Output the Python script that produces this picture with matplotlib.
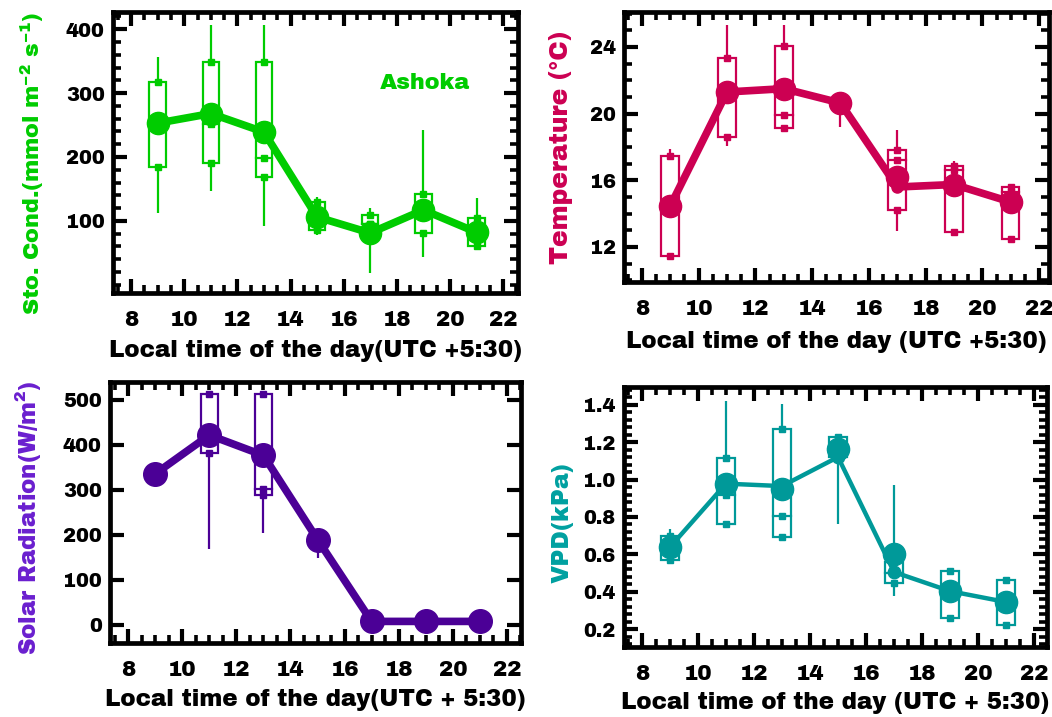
import matplotlib
matplotlib.use('Agg')
import matplotlib.pyplot as plt
import numpy as np
from matplotlib.ticker import MultipleLocator, FormatStrFormatter
from matplotlib.patches import Rectangle

FONT = ['Archivo Black', 'Liberation Sans', 'DejaVu Sans']
plt.rcParams['font.family'] = FONT
plt.rcParams['mathtext.fontset'] = 'custom'
plt.rcParams['mathtext.rm'] = 'Archivo Black'
plt.rcParams['mathtext.bf'] = 'Archivo Black'
plt.rcParams['mathtext.it'] = 'Archivo Black'
plt.rcParams['mathtext.default'] = 'regular'

nan = np.nan
hours = [9, 11, 13, 15, 17, 19, 21]

# Stomatal conductance (mmol m-2 s-1)
gs_line = [253, 268, 239, 106, 81, 117, 82]
gs_mean = [253, 268, 239, 106, 81, 117, 82]
gs_q1 = [184, 190, 168, 86, 95, 81, 60]
gs_q3 = [318, 348, 348, 129, 109, 142, 104]
gs_med = [253, 252, 199, 106, 95, 117, 82]
gs_lo = [112, 147, 92, 78, 18, 44, 55]
gs_hi = [356, 407, 407, 138, 120, 243, 135]

# Temperature (deg C)
t_line = [14.46, 21.3, 21.5, 20.64, 15.6, 15.75, 14.7]
t_mean = [14.46, 21.3, 21.5, 20.64, 16.2, 15.75, 14.7]
t_q1 = [11.44, 18.6, 19.16, 20.3, 14.2, 12.9, 12.5]
t_q3 = [17.46, 23.36, 24.06, 20.9, 17.8, 16.84, 15.6]
t_med = [14.46, 21.3, 19.9, 20.64, 17.2, 16.64, 15.3]
t_lo = [11.4, 18.04, 19.1, 19.2, 12.96, 12.9, 12.5]
t_hi = [17.86, 25.3, 25.3, 20.9, 19.0, 17.16, 15.8]

# Solar radiation (W/m2)
sr_line = [335, 421, 376, 189, 7, 7, 7]
sr_mean = [335, 421, 376, 189, 7, 7, 7]
sr_q1 = [nan, 382, 287, nan, nan, nan, nan]
sr_q3 = [nan, 512, 512, nan, nan, nan, nan]
sr_med = [nan, 421, 302, nan, nan, nan, nan]
sr_lo = [322, 169, 204, 148, nan, nan, nan]
sr_hi = [348, 512, 512, 189, nan, nan, nan]

# VPD (kPa)
vpd_line = [0.639, 0.978, 0.965, 1.12, 0.506, 0.404, 0.346]
vpd_mean = [0.639, 0.978, 0.947, 1.165, 0.60, 0.404, 0.346]
vpd_q1 = [0.568, 0.764, 0.693, 1.12, 0.447, 0.262, 0.226]
vpd_q3 = [0.70, 1.115, 1.272, 1.227, 0.559, 0.511, 0.465]
vpd_med = [0.64, 0.915, 0.803, 1.17, 0.50, 0.40, 0.35]
vpd_lo = [0.568, 0.764, 0.693, 0.764, 0.376, 0.262, 0.226]
vpd_hi = [0.737, 1.42, 1.405, 1.227, 0.969, 0.511, 0.465]

fig = plt.figure(figsize=(10.52, 7.17), dpi=100)

BW = 0.62


def draw(ax, color, line, mean, q1, q3, med, lo, hi, lw, ms, sms):
    for i, x in enumerate(hours):
        if not np.isnan(lo[i]):
            ax.plot([x, x], [lo[i], hi[i]], color=color, lw=1.6, zorder=1,
                    solid_capstyle='butt')
        if not np.isnan(q1[i]):
            ax.add_patch(Rectangle((x - BW / 2, q1[i]), BW, q3[i] - q1[i],
                                   facecolor='white', edgecolor=color, lw=1.6, zorder=2))
            ax.plot([x - BW / 2, x + BW / 2], [med[i], med[i]], color=color, lw=1.6, zorder=2)
            ax.plot([x, x, x], [q1[i], med[i], q3[i]], 's', color=color, ms=4.2, zorder=3)
    ax.plot(hours, line, '-o', color=color, lw=lw, ms=sms, zorder=4)
    ax.plot(hours, mean, 'o', color=color, ms=ms, zorder=5)


def style(ax, xlim, ylim, yticks, ymin, ylabel, ycolor, xlabel, ylx, yly, yfs, xpad):
    ax.set_xlim(*xlim)
    ax.set_ylim(*ylim)
    ax.xaxis.set_major_locator(MultipleLocator(2))
    ax.xaxis.set_minor_locator(MultipleLocator(0.5))
    ax.set_yticks(yticks)
    if ymin:
        ax.yaxis.set_minor_locator(MultipleLocator(ymin))
    else:
        ax.yaxis.set_minor_locator(plt.NullLocator())
    ax.tick_params(which='both', direction='in', top=True, right=True, colors='black')
    ax.tick_params(which='major', length=10, width=3.0)
    ax.tick_params(which='minor', length=5.5, width=2.6)
    ax.tick_params(axis='x', which='major', labelsize=15.5, pad=12)
    ax.tick_params(axis='y', which='major', labelsize=14, pad=6)
    for sp in ax.spines.values():
        sp.set_linewidth(3.4)
    ax.set_xlabel(xlabel, fontsize=16.5, labelpad=xpad)
    ax.set_ylabel(ylabel, fontsize=yfs, color=ycolor)
    ax.yaxis.set_label_coords(ylx, yly)


green = '#00CC00'
crimson = '#CC0052'
purple = '#4B0096'
purple_lab = '#6A1FCF'
teal = '#009999'

ax1 = fig.add_axes([113 / 1052, 1 - 293 / 717, 405 / 1052, 281 / 717])
draw(ax1, green, gs_line, gs_mean, gs_q1, gs_q3, gs_med, gs_lo, gs_hi, 5.5, 16, 8)
style(ax1, (7.32, 22.56), (-13, 427), [100, 200, 300, 400], 20,
      'Sto. Cond.(mmol m$^{-2}$ s$^{-1}$)', green,
      'Local time of the day(UTC +5:30)', -0.165, 0.46, 16, 7.5)
ax1.text(19.05, 316, 'Ashoka', color=green, fontsize=16, ha='center', va='center')

ax2 = fig.add_axes([624 / 1052, 1 - 282 / 717, 425 / 1052, 270 / 717])
draw(ax2, crimson, t_line, t_mean, t_q1, t_q3, t_med, t_lo, t_hi, 5.5, 16, 8)
style(ax2, (7.37, 22.35), (9.9, 26.1), [12, 16, 20, 24], 1,
      'Temperature (\u00b0C)', crimson,
      'Local time of the day (UTC +5:30)', -0.12, 0.5, 18, 9)

ax3 = fig.add_axes([110 / 1052, 1 - 643 / 717, 411 / 1052, 261 / 717])
draw(ax3, purple, sr_line, sr_mean, sr_q1, sr_q3, sr_med, sr_lo, sr_hi, 5.5, 17, 8)
style(ax3, (7.33, 22.52), (-41, 539), [0, 100, 200, 300, 400, 500], None,
      'Solar Radiation(W/m$^{2}$)', purple_lab,
      'Local time of the day(UTC + 5:30)', -0.163, 0.48, 16.5, 7)

ax4 = fig.add_axes([624 / 1052, 1 - 647 / 717, 423 / 1052, 260 / 717])
draw(ax4, teal, vpd_line, vpd_mean, vpd_q1, vpd_q3, vpd_med, vpd_lo, vpd_hi, 3.2, 16, 9)
style(ax4, (7.36, 22.46), (0.106, 1.494), [0.2, 0.4, 0.6, 0.8, 1.0, 1.2, 1.4], 0.04,
      'VPD(kPa)', '#00A0A0',
      'Local time of the day (UTC + 5:30)', -0.12, 0.48, 17, 6)
ax4.yaxis.set_major_formatter(FormatStrFormatter('%.1f'))

fig.savefig('out.png', dpi=100)
